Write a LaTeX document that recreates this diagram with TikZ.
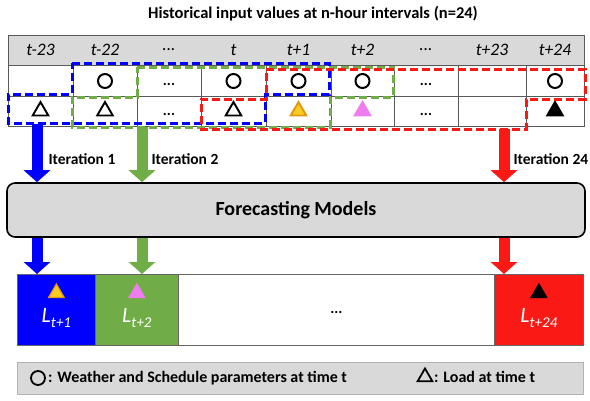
\documentclass[tikz,border=0pt]{standalone}
\usepackage{fontspec}
\setmainfont{Carlito}
\usepackage{tikz}
\usetikzlibrary{calc,positioning,arrows.meta,shapes.geometric}
\definecolor{itblue}{RGB}{0,0,255}
\definecolor{itgreen}{RGB}{112,173,71}
\definecolor{itred}{RGB}{250,25,20}
\definecolor{cellgray}{RGB}{217,217,217}
\definecolor{tgold}{RGB}{250,205,30}
\definecolor{torange}{RGB}{225,150,20}
\definecolor{tpink}{RGB}{240,125,240}
\newcommand{\tdots}{...}
\newcommand{\Lsub}[1]{{\fontsize{22}{23}\selectfont\itshape L}\raisebox{-5pt}{\fontsize{15}{16}\selectfont\itshape #1}}

\begin{document}
\begin{tikzpicture}[x=1pt,y=-1pt,
    grid/.style={draw=black!65,line width=0.9pt},
    hdr/.style={font=\fontsize{17.5}{19}\selectfont\itshape},
    wcirc/.style={circle,draw,line width=2pt,minimum size=14pt,inner sep=0pt},
    ltri/.style={regular polygon,regular polygon sides=3,draw,line width=1.9pt,minimum size=18pt,inner sep=0pt},
    tdot/.style={font=\fontsize{15}{17}\selectfont\bfseries,yshift=-3pt},
    winbox/.style={line width=3pt,dash pattern=on 8pt off 4pt},
    blockarrow/.style={#1,line width=11pt,-{Triangle[width=26pt,length=12pt]}},
    outcell/.style={draw=black!60,line width=0.8pt,fill=#1,minimum height=71pt,inner sep=0pt,anchor=north west},
    itlabel/.style={font=\fontsize{15.5}{17}\selectfont\bfseries,anchor=west},
    leg/.style={font=\fontsize{16}{18}\selectfont\bfseries,anchor=west,inner sep=0pt}]
  \useasboundingbox (0,0) rectangle (590,400);

  \node[font=\fontsize{16.5}{18}\selectfont\bfseries] (title) at (313,14)
    {Historical input values at n-hour intervals (n=24)};

  % input table
  \foreach \xa/\xb/\lab [count=\i] in {8/73/t-23,73/137/t-22,137/201/\tdots,201/266/t,266/331/t+1,331/394/t+2,394/458/\tdots,458/526/t+23,526/584/t+24}
  {
    \fill[cellgray] (\xa,35) rectangle (\xb,65);
    \node[hdr] (h\i) at ({(\xa+\xb)/2},50) {\lab};
    \coordinate (o\i) at ({(\xa+\xb)/2},81);
    \coordinate (d\i) at ({(\xa+\xb)/2},111);
    \draw[grid] (\xb,35) -- (\xb,126);
  }
  \draw[grid] (8,35) rectangle (584,126);
  \draw[grid] (8,65) -- (584,65);
  \draw[grid] (8,96) -- (584,96);

  \node[wcirc] (w2) at (o2) {};
  \node[tdot] (w3) at (o3) {\tdots};
  \node[wcirc] (w4) at (o4) {};
  \node[wcirc] (w5) at (o5) {};
  \node[wcirc] (w6) at (o6) {};
  \node[tdot] (w7) at (o7) {\tdots};
  \node[wcirc] (w9) at (o9) {};

  \node[ltri] (l1) at (d1) {};
  \node[ltri] (l2) at (d2) {};
  \node[tdot] (l3) at (d3) {\tdots};
  \node[ltri] (l4) at (d4) {};
  \node[ltri,draw=torange,fill=tgold] (l5) at (d5) {};
  \node[ltri,draw=tpink,fill=tpink] (l6) at (d6) {};
  \node[tdot] (l7) at (d7) {\tdots};
  \node[ltri,fill=black] (l9) at (d9) {};

  % forecasting block and outputs
  \node[draw,line width=1.6pt,rounded corners=8pt,fill=cellgray,minimum width=578pt,minimum height=54pt,
    font=\fontsize{20}{22}\selectfont\bfseries] (fm) at (296,210) {Forecasting Models};

  \node[outcell=itblue,minimum width=78pt] (out1) at (17,274) {};
  \node[outcell=itgreen,minimum width=83pt] (out2) at (95,274) {};
  \node[outcell=white,minimum width=316pt] (outm) at (178,274) {};
  \node[outcell=itred,minimum width=89pt] (out24) at (494,274) {};

  \node[ltri,draw=torange,fill=tgold,line width=1.2pt] (r1) at ($(out1.north)+(0,19)$) {};
  \node[text=white] (n1) at ($(out1.north)+(0,44)$) {\Lsub{t+1}};
  \node[ltri,draw=tpink,fill=tpink,line width=1.2pt] (r2) at ($(out2.north)+(0,19)$) {};
  \node[text=white] (n2) at ($(out2.north)+(0,44)$) {\Lsub{t+2}};
  \node[tdot] (nm) at ($(outm.center)+(0,0)$) {\tdots};
  \node[ltri,fill=black,line width=1.2pt] (r24) at ($(out24.north)+(0,19)$) {};
  \node[text=white] (n24) at ($(out24.north)+(0,44)$) {\Lsub{t+24}};

  % iteration arrows
  \coordinate (a1) at (37,124);
  \coordinate (a2) at (142,127);
  \coordinate (a24) at (504,129);
  \draw[blockarrow=itblue] (a1) -- (a1 |- fm.north);
  \draw[blockarrow=itgreen] (a2) -- (a2 |- fm.north);
  \draw[blockarrow=itred] (a24) -- (a24 |- fm.north);
  \draw[blockarrow=itblue] (a1 |- fm.south) -- (a1 |- out1.north);
  \draw[blockarrow=itgreen] (a2 |- fm.south) -- (a2 |- out2.north);
  \draw[blockarrow=itred] (a24 |- fm.south) -- (a24 |- out24.north);

  \node[itlabel] (it1) at (45,159) {Iteration 1};
  \node[itlabel] (it2) at (148,159) {Iteration 2};
  \node[itlabel] (it24) at (510,159) {Iteration 24};

  % sliding windows
  \draw[winbox,itblue] (72,63) -- (329,63) -- (329,94) -- (265,94) -- (265,123) -- (8,123) -- (8,94) -- (72,94) -- cycle;
  \draw[winbox,itgreen] (137,67) -- (393,67) -- (393,97) -- (330,97) -- (330,127) -- (72,127) -- (72,97) -- (137,97) -- cycle;
  \draw[winbox,itred] (266,69) -- (585,69) -- (585,99) -- (526,99) -- (526,129) -- (201,129) -- (201,99) -- (266,99) -- cycle;

  % legend
  \node[draw=black!30,line width=0.8pt,fill=cellgray,minimum width=566pt,minimum height=32pt,anchor=north west] (legend) at (17,362) {};
  \node[wcirc,line width=1.8pt,minimum size=14pt] (lgc) at (38,378) {};
  \node[leg,right=2pt of lgc] (lgct) {: Weather and Schedule parameters at time t};
  \node[ltri,line width=1.8pt,minimum size=17pt] (lgt) at (425,377) {};
  \node[leg,right=3pt of lgt] (lgtt) {: Load at time t};
\end{tikzpicture}
\end{document}
